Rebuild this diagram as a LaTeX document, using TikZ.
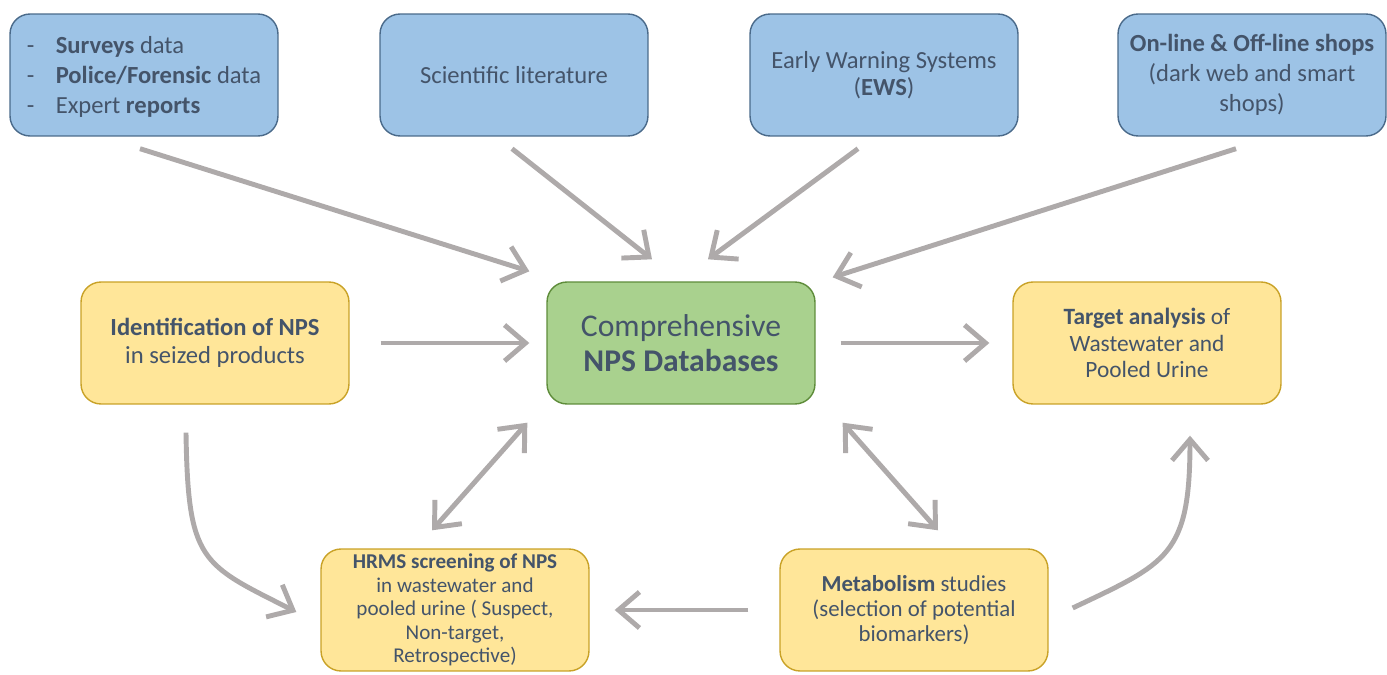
\documentclass[tikz,border=0pt]{standalone}
\usepackage{fontspec}
\setmainfont{Carlito}
\usepackage{xcolor}
\usepackage{tikz}
\usetikzlibrary{shapes,arrows,positioning,calc,arrows.meta}
\definecolor{srcblue}{HTML}{9DC3E6}
\definecolor{srcline}{HTML}{4A6A8A}
\definecolor{dbgreen}{HTML}{A9D18E}
\definecolor{dbline}{HTML}{5E8C3A}
\definecolor{anayellow}{HTML}{FFE699}
\definecolor{analine}{HTML}{C9A227}
\definecolor{txtgray}{HTML}{44546A}
\definecolor{arrgray}{HTML}{AEAAAA}

\begin{document}
\begin{tikzpicture}[x=0.02cm, y=0.02cm,
    box/.style={rectangle, rounded corners=0.4cm, draw, line width=0.8pt, minimum width=5.36cm, minimum height=2.44cm, align=center, text=txtgray, inner sep=2pt, font=\fontsize{14}{17}\selectfont},
    src/.style={box, fill=srcblue, draw=srcline},
    ana/.style={box, fill=anayellow, draw=analine},
    hub/.style={box, fill=dbgreen, draw=dbline, font=\fontsize{18}{20}\selectfont},
    flow/.style={draw=arrgray, line width=2.8pt, -{Straight Barb[length=0.42cm,width=0.72cm]}},
    both/.style={flow, {Straight Barb[length=0.42cm,width=0.72cm]}-{Straight Barb[length=0.42cm,width=0.72cm]}}]
    \useasboundingbox (0,0) rectangle (1387,-675);

    \node (surveys) [src, align=left, text depth=-4pt] at (144,-75) {\makebox[0.58cm][l]{-}\textbf{Surveys} data\\\makebox[0.58cm][l]{-}\textbf{Police/Forensic} data\\\makebox[0.58cm][l]{-}Expert \textbf{reports}};
    \node (literature) [src] at (514,-75) {Scientific literature};
    \node (ews) [src, font=\fontsize{14}{15}\selectfont] at (884,-75) {Early Warning Systems\\(\textbf{EWS})};
    \node (shops) [src] at (1252,-75) {\textbf{On-line \& Off-line shops}\\(dark web and smart\\shops)};

    \node (seized) [ana, font=\fontsize{14}{16}\selectfont] at (215,-343) {\textbf{Identification of NPS}\\in seized products};
    \node (db) [hub] at (681,-343) {Comprehensive\\\textbf{NPS Databases}};
    \node (target) [ana, font=\fontsize{13.3}{15}\selectfont] at (1147,-343) {\textbf{Target analysis} of\\Wastewater and\\Pooled Urine};

    \node (hrms) [ana, font=\fontsize{12}{13.4}\selectfont] at (455,-610) {\textbf{HRMS screening of NPS}\\in wastewater and\\pooled urine ( Suspect,\\Non-target,\\Retrospective)};
    \node (metab) [ana, font=\fontsize{13}{14.2}\selectfont] at (914,-610) {\textbf{Metabolism} studies\\(selection of potential\\biomarkers)};

    \draw [flow] ([shift={(-4,-12)}]surveys.south) -- ([shift={(-17,10)}]db.north west);
    \draw [flow] ([shift={(-2,-12)}]literature.south) -- ([shift={(-29,22)}]db.north);
    \draw [flow] ([shift={(-26,-12)}]ews.south) -- ([shift={(27,22)}]db.north);
    \draw [flow] ([shift={(-16,-12)}]shops.south) -- ([shift={(17,4)}]db.north east);
    \draw [flow] ([shift={(31,0)}]seized.east) -- ([shift={(-17,0)}]db.west);
    \draw [flow] ([shift={(25,0)}]db.east) -- ([shift={(-23,0)}]target.west);
    \draw [both] ([shift={(-23,18)}]hrms.north) -- ([shift={(-19,-18)}]db.south west);
    \draw [both] ([shift={(27,-18)}]db.south east) -- ([shift={(24,18)}]metab.north);
    \draw [flow] ([shift={(-29,-28)}]seized.south) .. controls +(2,-130) and +(-95,48) .. ([shift={(-24,-2)}]hrms.west);
    \draw [flow] ([shift={(-31,0)}]metab.west) -- ([shift={(25,0)}]hrms.east);
    \draw [flow] ([shift={(24,2)}]metab.east) .. controls +(95,45) and +(0,-120) .. ([shift={(43,-31)}]target.south);
\end{tikzpicture}
\end{document}
